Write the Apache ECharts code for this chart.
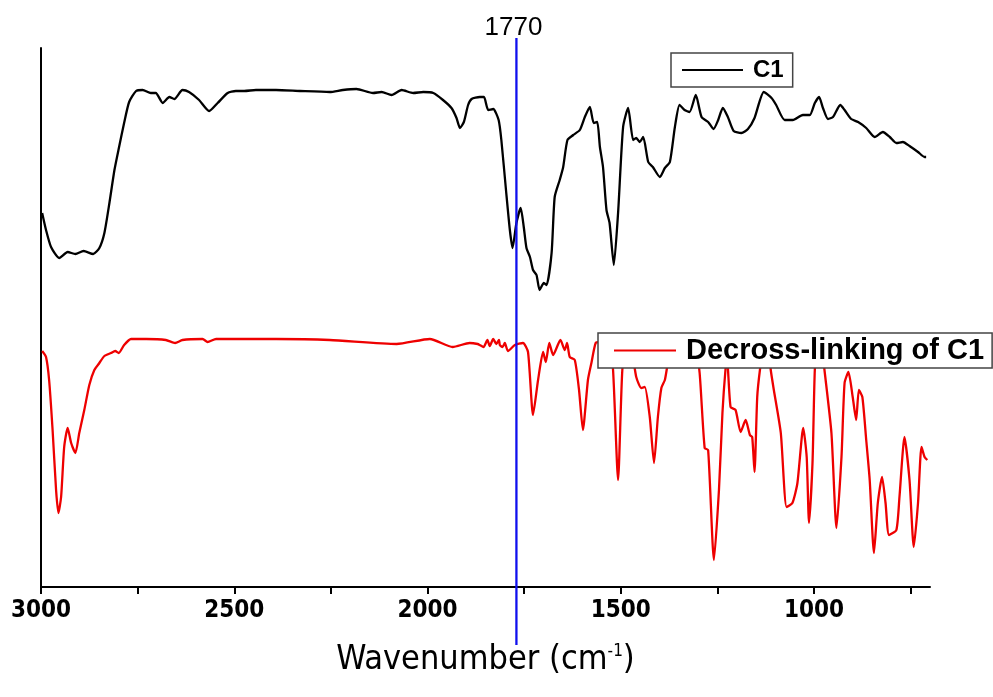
<!DOCTYPE html>
<html>
<head>
<meta charset="utf-8">
<script src="https://cdn.jsdelivr.net/npm/echarts@6/dist/echarts.min.js"></script>
<style>html,body{margin:0;padding:0;background:#fff;}#c{width:993px;height:697px;}</style>
</head>
<body>
<div id="c"></div>
<script>
// Wavenumber (cm-1) and transmittance (arbitrary units)
const wnC1 = [2997,2987,2974,2953,2931,2911,2890,2865,2849,2836,2823,2810,2798,2785,2772,2754,2737,2716,2703,2685,2668,2655,2634,2617,2591,2565,2543,2517,2496,2474,2444,2392,2330,2253,2219,2184,2141,2119,2093,2067,2037,2011,1985,1960,1938,1925,1916,1906,1895,1886,1865,1854,1843,1830,1816,1809,1797,1787,1780,1770,1759,1751,1744,1735,1727,1718,1710,1699,1692,1679,1671,1658,1649,1638,1623,1606,1593,1580,1570,1561,1554,1546,1537,1529,1518,1507,1494,1481,1468,1460,1451,1442,1429,1417,1399,1386,1373,1360,1348,1335,1322,1306,1291,1274,1260,1248,1236,1223,1208,1188,1171,1154,1130,1110,1098,1076,1055,1029,1011,998,987,977,964,951,932,921,904,886,865,843,822,804,787,770,753,731,714,710];
const tC1 = [374,357,340,329,335,333,336,333,339,354,384,417,440,464,485,496,497,494,494,484,490,488,497,495,487,476,484,494,496,496,497,497,496,495,497,498,494,495,492,497,494,495,494,487,479,469,459,465,482,488,490,490,477,478,467,447,397,357,339,364,379,360,339,330,317,312,297,304,302,334,390,407,420,447,452,457,470,480,464,465,440,420,377,364,322,374,460,479,447,449,445,450,425,420,410,419,425,460,482,477,475,492,470,465,458,467,479,470,456,454,458,469,495,489,482,467,467,472,472,484,490,479,468,470,482,477,468,465,459,450,455,450,444,445,441,435,430,430];

const wnDecross = [2997,2987,2979,2970,2961,2955,2948,2940,2931,2922,2911,2901,2888,2875,2862,2849,2836,2819,2808,2799,2785,2767,2728,2677,2653,2634,2582,2569,2547,2392,2253,2080,1994,1935,1891,1870,1865,1855,1845,1839,1830,1822,1815,1813,1806,1800,1792,1774,1753,1740,1727,1714,1701,1694,1685,1675,1656,1645,1639,1632,1619,1608,1598,1585,1576,1565,1554,1542,1529,1520,1507,1496,1485,1472,1460,1447,1438,1425,1414,1404,1395,1386,1380,1368,1348,1322,1306,1296,1283,1274,1259,1246,1237,1229,1225,1216,1203,1190,1177,1166,1160,1154,1147,1140,1130,1117,1112,1104,1086,1071,1056,1043,1028,1019,1013,1004,998,991,980,973,955,942,929,921,911,900,891,884,875,865,856,845,835,824,815,806,787,779,766,753,742,731,722,714,707];
const tDecross = [236,230,207,157,97,74,90,140,159,144,134,154,177,202,217,224,231,234,236,234,242,248,248,247,244,247,248,245,248,248,247,243,248,240,244,243,242,240,247,241,248,243,247,242,240,244,236,242,244,235,172,207,235,225,244,232,247,237,244,230,227,197,157,207,224,244,245,242,237,217,107,217,242,237,210,199,200,170,124,170,199,207,220,242,247,245,237,214,139,137,27,97,174,218,228,180,177,155,167,152,150,115,190,217,242,237,217,197,154,80,84,104,159,130,64,124,217,242,240,217,154,59,130,204,215,190,167,197,190,147,107,34,84,110,84,52,57,90,150,107,40,84,140,130,127];

const seriesNames = ['C1', 'Decross-linking of C1'];
const xTicks = [750,1000,1250,1500,1750,2000,2250,2500,2750,3000];
const xLabels = [1000,1500,2000,2500,3000];
const markerWn = 1770;
const markerText = '1770';

const zip = (a, b) => a.map((v, i) => [v, b[i]]);

const chart = echarts.init(document.getElementById('c'));
const axisFont = "'DejaVu Sans Condensed','Liberation Sans',Arial,sans-serif";
const legendFont = "'Liberation Sans',Arial,sans-serif";
chart.setOption({
  animation: false,
  backgroundColor: '#fff',
  grid: { left: 41, right: 63, top: 48, bottom: 110 },
  xAxis: {
    type: 'value', inverse: true, min: 700, max: 3000,
    name: 'Wavenumber (cm{sup|-1})',
    nameLocation: 'middle', nameGap: 56,
    nameTextStyle: {
      fontFamily: axisFont, fontSize: 34, color: '#000',
      rich: { sup: { fontFamily: axisFont, fontSize: 17, color: '#000', padding: [0, 0, 18, 0] } }
    },
    splitLine: { show: false },
    axisLine: { show: true, onZero: false, lineStyle: { color: '#000', width: 2 } },
    axisTick: { show: true, length: 7, customValues: xTicks, lineStyle: { color: '#000', width: 2 } },
    axisLabel: { customValues: xLabels, margin: 12, color: '#000', fontWeight: 'bold', fontSize: 24, fontFamily: axisFont,
      formatter: v => String(v) }
  },
  yAxis: {
    type: 'value', min: 0, max: 539,
    axisLine: { show: true, lineStyle: { color: '#000', width: 2 } },
    axisTick: { show: false }, axisLabel: { show: false }, splitLine: { show: false }
  },
  legend: [
    {
      data: [seriesNames[0]], left: 671, top: 53,
      backgroundColor: '#fff', borderColor: '#444', borderWidth: 1.5, borderRadius: 0,
      padding: [5, 9, 5, 10], itemWidth: 61, itemHeight: 14,
      itemStyle: { opacity: 0 },
      textStyle: { fontSize: 24, fontWeight: 'bold', color: '#000', fontFamily: legendFont, padding: [0, 0, 0, 5] }
    },
    {
      data: [seriesNames[1]], left: 598, top: 333,
      backgroundColor: '#fff', borderColor: '#444', borderWidth: 1.5, borderRadius: 0,
      padding: [3, 8, 3, 15], itemWidth: 62, itemHeight: 14,
      itemStyle: { opacity: 0 },
      textStyle: { fontSize: 29, fontWeight: 'bold', color: '#000', fontFamily: legendFont, padding: [0, 0, 0, 5] }
    }
  ],
  series: [
    { name: seriesNames[0], type: 'line', data: zip(wnC1, tC1), symbol: 'none', showSymbol: false, smooth: 0.2,
      lineStyle: { color: '#000', width: 2.3 }, itemStyle: { color: '#000' } },
    { name: seriesNames[1], type: 'line', data: zip(wnDecross, tDecross), symbol: 'none', showSymbol: false, smooth: 0.2,
      lineStyle: { color: '#ee0000', width: 2.3 }, itemStyle: { color: '#ee0000' } }
  ]
});

const mx = chart.convertToPixel({ xAxisIndex: 0 }, markerWn);
chart.setOption({
  graphic: [
    { type: 'line', z: 10, shape: { x1: mx, y1: 38, x2: mx, y2: 645 }, style: { stroke: '#1010ee', lineWidth: 2.3 } },
    { type: 'text', z: 10, x: mx - 3, y: 28, style: { text: markerText, fill: '#000', fontSize: 26, fontFamily: legendFont, align: 'center', verticalAlign: 'middle' } }
  ]
});
</script>
</body>
</html>
